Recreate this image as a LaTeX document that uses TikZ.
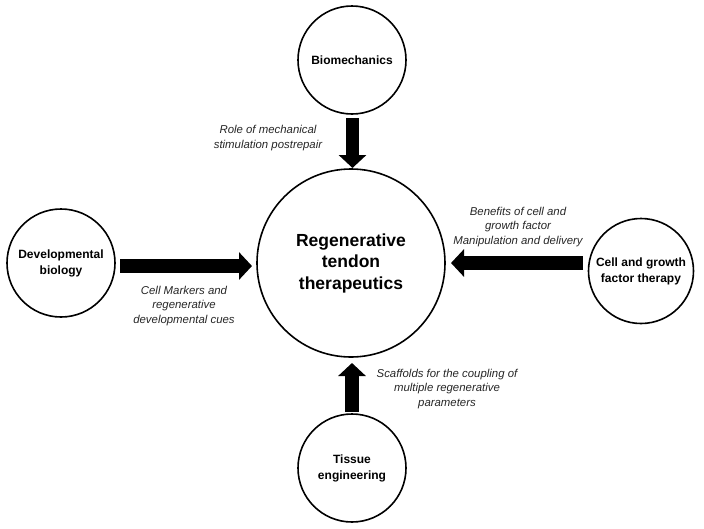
\documentclass[tikz,border=0pt]{standalone}
\usepackage{fontspec}
\setmainfont{Liberation Sans}
\usetikzlibrary{arrows.meta}
\begin{document}
\begin{tikzpicture}[x=1pt,y=-1pt,
  topic/.style={circle,draw=black,line width=1.6pt,minimum size=108pt,inner sep=0pt,align=center,
    font=\bfseries\fontsize{12}{16}\selectfont},
  hub/.style={circle,draw=black,line width=1.6pt,minimum size=188pt,inner sep=0pt,align=center,
    font=\bfseries\fontsize{17.5}{21.5}\selectfont},
  note/.style={align=center,font=\itshape\fontsize{11.4}{14.6}\selectfont,text=black!85,inner sep=0pt},
  fat/.style={line width=13.5pt,-{Triangle[width=27pt,length=13pt]}}
]
\useasboundingbox (0,0) rectangle (704,528);
\node[hub] (hub) at (351,263) {Regenerative\\tendon\\therapeutics};
\node[topic] (bio) at (352,60) {Biomechanics};
\node[topic] (dev) at (61,263) {Developmental\\biology};
\node[topic,minimum size=105pt] (cell) at (641,271) {Cell and growth\\factor therapy};
\node[topic] (tis) at (352,468) {Tissue\\engineering};

\coordinate (a1s) at (352.5,118); \coordinate (a1e) at (352.5,168);
\coordinate (a2s) at (120,266); \coordinate (a2e) at (252,266);
\coordinate (a3s) at (583,263); \coordinate (a3e) at (451,263);
\coordinate (a4s) at (352,412); \coordinate (a4e) at (352,363);
\draw[fat] (a1s) -- (a1e);
\draw[fat] (a2s) -- (a2e);
\draw[fat] (a3s) -- (a3e);
\draw[fat] (a4s) -- (a4e);

\node[note] (n1) at (268,138) {Role of mechanical\\stimulation postrepair};
\node[note] (n2) at (184,306) {Cell Markers and\\regenerative\\developmental cues};
\node[note] (n3) at (518,227) {Benefits of cell and\\growth factor\\Manipulation and delivery};
\node[note] (n4) at (447,389) {Scaffolds for the coupling of\\multiple regenerative\\parameters};
\end{tikzpicture}
\end{document}
